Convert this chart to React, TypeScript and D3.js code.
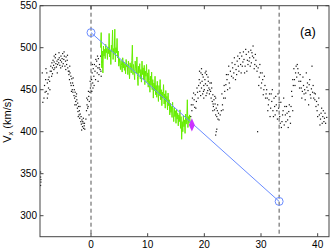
import React from 'react';
import * as d3 from 'd3';

// black scatter (t in days, Vx in km/s)
const blackPre: [number, number][] = [
  [-8.9, 352], [-8.9, 346], [-8.85, 340], [-8.9, 336], [-8.85, 343], [-8.5, 435],
  [-8.2, 455], [-8.0, 462], [-7.9, 448], [-7.8, 470], [-7.7, 458], [-7.6, 445], [-7.5, 452],
  [-7.4, 465], [-7.3, 460], [-8.1, 447], [-7.7, 440], [-7.2, 472],
  [-7.1, 478], [-7.0, 472], [-6.9, 482], [-6.8, 476], [-6.7, 485], [-6.6, 479], [-6.5, 483],
  [-6.4, 476], [-6.3, 488], [-6.2, 481], [-6.1, 477], [-6.0, 484], [-5.9, 480], [-5.8, 486],
  [-6.8, 469], [-6.5, 490],
  [-5.7, 482], [-5.6, 488], [-5.5, 479], [-5.4, 485], [-5.3, 490], [-5.2, 483], [-5.1, 487],
  [-5.0, 493], [-4.9, 481], [-4.8, 486], [-4.7, 490], [-4.6, 478], [-4.5, 484], [-4.4, 489],
  [-4.3, 480], [-4.2, 485], [-4.1, 476], [-4.0, 472],
  [-3.9, 468], [-3.8, 462], [-3.7, 470], [-3.6, 458], [-3.5, 455], [-3.4, 463], [-3.3, 450],
  [-3.2, 447], [-3.1, 455], [-3.0, 443], [-2.9, 440], [-2.8, 447], [-2.7, 436], [-2.6, 432],
  [-2.5, 438], [-2.4, 428], [-2.3, 424], [-2.2, 430], [-2.1, 420], [-2.0, 416], [-1.9, 421],
  [-1.8, 412], [-1.7, 409], [-1.6, 414], [-1.5, 406], [-1.4, 410], [-1.3, 404], [-1.2, 407],
  [-1.1, 403], [-3.85, 472], [-3.55, 466], [-3.25, 458], [-2.95, 450], [-2.65, 442],
  [-2.35, 434], [-2.05, 425], [-1.75, 418], [-1.45, 412],
  [-0.9, 415], [-0.8, 425], [-0.7, 432], [-0.6, 438], [-0.5, 430], [-0.4, 442], [-0.3, 436],
  [-0.2, 447], [-0.1, 452], [-0.6, 428], [-0.35, 420],
  [0.1, 462], [0.2, 470], [0.3, 458], [0.4, 475], [0.5, 466], [0.6, 480], [0.7, 472],
  [0.8, 462], [0.9, 478], [1.0, 484], [1.1, 470], [1.2, 476], [1.3, 487], [1.4, 468],
  [1.5, 480], [1.6, 474], [1.7, 490], [1.8, 466], [1.9, 483], [0.35, 452], [0.15, 448], [1.25, 460],
  [-8.6, 470], [-8.3, 440], [-7.95, 475], [-7.55, 462], [-7.25, 450], [-6.95, 466], [-6.55, 474],
  [-6.25, 492], [-5.95, 470], [-5.65, 494], [-5.35, 476], [-5.05, 478], [-4.75, 495], [-4.45, 474],
  [-4.15, 491], [-3.75, 478], [-3.45, 448], [-3.15, 464], [-2.85, 432], [-2.55, 445], [-2.25, 418],
  [-1.95, 430], [-1.65, 402], [-1.35, 416], [-1.15, 410], [-0.75, 440], [-0.45, 448], [-0.15, 460],
  [0.25, 480], [0.55, 455], [0.85, 486], [1.15, 490], [1.45, 476], [1.75, 472], [1.95, 492],
];

const blackPost: [number, number][] = [
  [17.6, 418], [17.8, 425], [18.0, 432], [18.2, 438], [18.4, 444], [18.6, 436], [18.8, 447],
  [17.9, 440], [18.3, 429], [18.7, 452],
  [19.0, 455], [19.1, 462], [19.2, 448], [19.3, 458], [19.4, 470], [19.5, 452], [19.6, 460],
  [19.7, 445], [19.8, 465], [19.9, 455], [20.0, 450], [20.1, 462], [20.2, 457], [20.3, 443],
  [20.4, 468], [20.5, 455], [20.6, 449], [20.7, 460], [20.8, 452], [20.9, 445], [21.0, 458],
  [19.5, 475], [20.3, 472], [19.9, 440],
  [21.1, 448], [21.2, 440], [21.3, 452], [21.4, 436], [21.5, 444], [21.6, 430], [21.7, 438],
  [21.8, 426], [21.9, 433], [22.0, 420], [22.1, 428], [22.2, 418], [22.3, 425], [22.4, 415],
  [22.5, 422], [21.5, 425], [22.0, 440], [22.1, 400], [22.0, 396], [22.2, 403],
  [23.0, 425], [23.2, 432], [23.4, 440], [23.6, 448], [23.8, 456], [24.0, 462], [24.2, 468],
  [24.4, 458], [24.6, 472], [24.8, 466], [25.0, 476], [25.2, 470], [25.4, 480], [25.6, 474],
  [25.8, 484], [26.0, 478], [26.2, 487], [26.4, 480], [26.6, 490], [26.8, 483], [27.0, 486],
  [27.2, 478], [27.4, 492], [27.6, 485], [27.8, 495], [28.0, 488], [28.2, 497], [28.3, 482],
  [28.5, 490], [28.6, 502], [23.5, 455], [24.1, 450], [25.5, 462], [26.5, 470], [27.5, 472],
  [28.7, 488], [28.9, 480], [29.1, 485], [29.3, 472], [29.5, 476], [29.7, 465], [29.9, 470],
  [30.1, 458], [30.3, 462], [30.5, 450], [30.7, 455], [30.9, 445], [29.0, 492], [29.6, 455],
  [30.2, 470], [29.4, 400],
  [31.1, 440], [31.3, 432], [31.5, 445], [31.7, 428], [31.9, 436], [32.1, 425], [32.3, 440],
  [32.5, 420], [32.7, 432], [32.9, 415], [33.1, 428], [33.3, 418], [33.5, 435], [33.7, 412],
  [33.9, 425], [34.1, 408], [34.3, 420], [34.5, 430], [34.7, 414], [34.9, 424], [35.1, 418],
  [32.0, 450], [33.0, 445], [34.0, 440], [31.6, 418], [33.6, 405],
  [35.3, 430], [35.5, 442], [35.7, 455], [35.9, 462], [36.1, 470], [36.3, 465], [36.5, 475],
  [36.7, 460], [36.9, 468], [35.8, 475], [36.4, 480], [35.6, 425],
  [37.1, 452], [37.3, 448], [37.5, 455], [37.7, 450], [37.9, 446], [38.1, 453], [38.3, 449],
  [38.5, 456], [38.7, 444], [38.9, 451], [39.1, 447], [39.3, 440], [37.4, 465], [38.0, 470],
  [38.6, 462], [37.8, 438], [38.4, 432], [39.0, 478], [37.2, 440],
  [39.5, 438], [39.7, 430], [39.9, 425], [40.1, 432], [40.3, 420], [40.5, 415], [40.7, 428],
  [40.9, 418], [41.1, 412], [41.3, 422], [39.6, 445], [40.4, 408], [41.6, 417],
  [17.7, 432], [18.1, 446], [18.5, 428], [18.9, 440], [19.15, 472], [19.35, 443], [19.65, 468],
  [19.85, 448], [20.15, 470], [20.45, 446], [20.65, 465], [20.95, 450], [21.25, 458], [21.55, 433],
  [21.85, 442], [22.35, 432], [22.6, 414], [22.8, 420], [23.1, 445], [23.3, 426], [23.7, 440],
  [23.9, 468], [24.3, 478], [24.5, 452], [24.9, 482], [25.1, 464], [25.3, 488], [25.7, 468],
  [25.9, 490], [26.1, 472], [26.3, 494], [26.7, 478], [26.9, 495], [27.1, 470], [27.3, 498],
  [27.7, 480], [27.9, 484], [28.1, 478], [28.4, 494], [28.8, 475], [29.2, 478], [29.8, 480],
  [30.0, 452], [30.4, 444], [30.6, 466], [30.8, 440], [31.0, 450], [31.2, 425], [31.4, 438],
  [31.8, 445], [32.2, 418], [32.4, 430], [32.6, 442], [32.8, 425], [33.2, 435], [33.4, 410],
  [33.8, 420], [34.2, 430], [34.4, 412], [34.6, 422], [34.8, 405], [35.0, 432], [35.2, 410],
  [35.4, 448], [35.6, 462], [36.0, 455], [36.2, 478], [36.6, 470], [36.8, 452], [37.0, 460],
  [37.6, 445], [38.2, 458], [38.8, 440], [39.2, 455], [39.4, 446], [39.8, 436], [40.0, 418],
  [40.2, 440], [40.6, 422], [40.8, 410], [41.0, 425], [41.2, 416], [41.4, 410],
];

// green high-resolution trace
const greenPts: [number, number][] = [
  [1.7, 500], [1.8, 518], [1.9, 476], [2.0, 496], [2.1, 470], [2.2, 502], [2.3, 490], [2.4, 498],
  [2.5, 487], [2.6, 504], [2.7, 494], [2.8, 499], [2.9, 486], [3.0, 501], [3.1, 493], [3.2, 517],
  [3.3, 489], [3.4, 497], [3.5, 480], [3.6, 503], [3.7, 495], [3.8, 521], [3.9, 486], [4.0, 499],
  [4.1, 492], [4.2, 522], [4.3, 483], [4.4, 500], [4.5, 494], [4.6, 511], [4.7, 488], [4.8, 496],
  [4.9, 478], [5.0, 487], [5.1, 481], [5.2, 474], [5.3, 485], [5.4, 479], [5.5, 471], [5.6, 488],
  [5.7, 476], [5.8, 483], [5.9, 473], [6.0, 481], [6.1, 469], [6.2, 486], [6.3, 477], [6.4, 480],
  [6.5, 468], [6.6, 484], [6.7, 474], [6.8, 463], [6.9, 482], [7.0, 476], [7.1, 470], [7.2, 485],
  [7.3, 503], [7.4, 468], [7.5, 480], [7.6, 472], [7.7, 462], [7.8, 484], [7.9, 475], [8.0, 470],
  [8.1, 489], [8.2, 466], [8.3, 455], [8.4, 478], [8.5, 470], [8.6, 481], [8.7, 463], [8.8, 474],
  [8.9, 459], [9.0, 484], [9.1, 468], [9.2, 476], [9.3, 462], [9.4, 479], [9.5, 456], [9.6, 472],
  [9.7, 466], [9.8, 480], [9.9, 459], [10.0, 470], [10.1, 453], [10.2, 474], [10.3, 461], [10.4, 447],
  [10.5, 466], [10.6, 455], [10.7, 471], [10.8, 450], [10.9, 462], [11.0, 440], [11.1, 458], [11.2, 449],
  [11.3, 466], [11.4, 444], [11.5, 455], [11.6, 441], [11.7, 460], [11.8, 447], [11.9, 436], [12.0, 455],
  [12.1, 443], [12.2, 462], [12.3, 438], [12.4, 450], [12.5, 431], [12.6, 447], [12.7, 440], [12.8, 456],
  [12.9, 433], [13.0, 445], [13.1, 428], [13.2, 449], [13.3, 436], [13.4, 442], [13.5, 426], [13.6, 446],
  [13.7, 431], [13.8, 438], [13.9, 420], [14.0, 434], [14.1, 423], [14.2, 430], [14.3, 417], [14.4, 435],
  [14.5, 421], [14.6, 412], [14.7, 428], [14.8, 418], [14.9, 425], [15.0, 410], [15.1, 427], [15.2, 415],
  [15.3, 422], [15.4, 407], [15.5, 420], [15.6, 412], [15.7, 426], [15.8, 404], [15.9, 418], [16.0, 391],
  [16.1, 412], [16.2, 400], [16.3, 419], [16.4, 406], [16.5, 414], [16.6, 398], [16.7, 421], [16.8, 409],
  [16.9, 416], [17.0, 438], [17.1, 405], [17.2, 418], [17.3, 410], [17.4, 420], [17.5, 412],
];

// fitted line endpoints (circles) and the marked point
const fitT = [0, 33.2];
const fitV = [518, 317];
const markT = 17.8;
const markV = 408;
const eventLines = [0, 33.2];

const xTicks = [0, 10, 20, 30, 40];
const yTicks = [300, 350, 400, 450, 500, 550];

const W = 332;
const H = 251;
const margin = { top: 5.7, right: 3, bottom: 14.3, left: 40 };

export default function App() {
  const x = d3.scaleLinear().domain([-9, 42]).range([margin.left, W - margin.right]);
  const y = d3.scaleLinear().domain([275, 550]).range([H - margin.bottom, margin.top]);
  const x0 = x.range()[0], x1 = x.range()[1];
  const yB = y.range()[0], yT = y.range()[1];

  const greenLine = d3.line<[number, number]>()
    .x(d => x(d[0]))
    .y(d => y(d[1]))(greenPts);

  const fitLine = d3.line<number>()
    .x((_, i) => x(fitT[i]))
    .y(d => y(d))(fitV);

  const diamond = d3.symbol().type(d3.symbolDiamond).size(42)();
  const font = '"Liberation Sans", Arial, sans-serif';
  const tick = 3.5;

  return (
    <div style={{ position: 'absolute', left: 0, top: 0 }}>
      <svg width={W} height={H} style={{ display: 'block', background: '#fff' }} fontFamily={font}>
        <defs>
          <clipPath id="plot">
            <rect x={x0} y={yT} width={x1 - x0} height={yB - yT} />
          </clipPath>
        </defs>

        <g clipPath="url(#plot)">
          {/* event markers */}
          {eventLines.map((t, i) => (
            <line key={i} x1={x(t)} x2={x(t)} y1={yT} y2={yB}
              stroke="#555" strokeWidth={1} strokeDasharray="4,3" />
          ))}

          {/* black scatter */}
          {blackPre.concat(blackPost).map((d, i) => (
            <rect key={i} x={x(d[0]) - 0.6} y={y(d[1]) - 0.6} width={1.2} height={1.2} fill="#111" />
          ))}

          {/* green trace */}
          <path d={greenLine ?? ''} fill="none" stroke="#66ee00" strokeWidth={1} />

          {/* fit line */}
          <path d={fitLine ?? ''} fill="none" stroke="#6a8cff" strokeWidth={1} />
          {fitT.map((t, i) => (
            <circle key={i} cx={x(t)} cy={y(fitV[i])} r={4} fill="none" stroke="#6a8cff" strokeWidth={1} />
          ))}
          <path d={diamond ?? ''} transform={`translate(${x(markT)},${y(markV)}) scale(0.85,1.1)`} fill="#cc33ff" />
        </g>

        {/* frame */}
        <rect x={x0} y={yT} width={x1 - x0} height={yB - yT} fill="none" stroke="#444" strokeWidth={1} />

        {/* x ticks */}
        {xTicks.map(t => (
          <g key={t}>
            <line x1={x(t)} x2={x(t)} y1={yB} y2={yB - tick} stroke="#444" />
            <line x1={x(t)} x2={x(t)} y1={yT} y2={yT + tick} stroke="#444" />
            <text x={x(t)} y={248} textAnchor="middle" fontSize={10} fill="#000">{t}</text>
          </g>
        ))}

        {/* y ticks */}
        {yTicks.map(v => (
          <g key={v}>
            <line x1={x0} x2={x0 + tick} y1={y(v)} y2={y(v)} stroke="#444" />
            <line x1={x1} x2={x1 - tick} y1={y(v)} y2={y(v)} stroke="#444" />
            <text x={37} y={y(v) + 3.6} textAnchor="end" fontSize={10} fill="#000">{v}</text>
          </g>
        ))}

        <text transform="translate(10.5,120.5) rotate(-90)" textAnchor="middle" fontSize={11} fill="#000">
          V<tspan fontSize={7.5} dy={2.5}>x</tspan><tspan dy={-2.5}> (km/s)</tspan>
        </text>

        <text x={300} y={35.5} fontSize={13} fill="#000">(a)</text>
      </svg>
    </div>
  );
}
